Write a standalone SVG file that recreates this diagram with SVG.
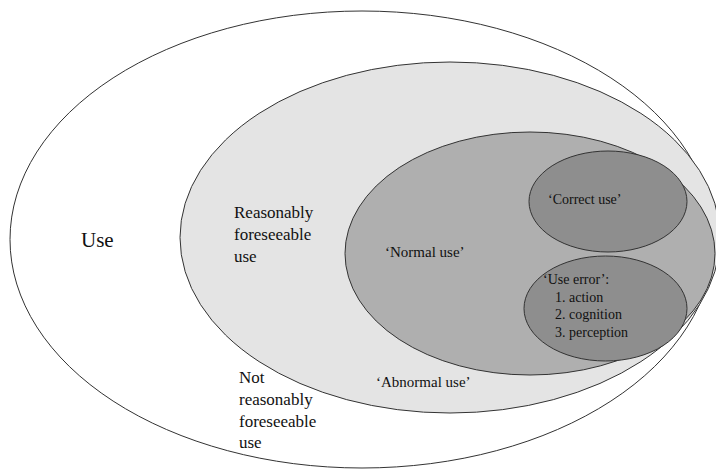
<svg xmlns="http://www.w3.org/2000/svg" width="716" height="469" viewBox="0 0 716 469">
<style>
.e{stroke:#333;stroke-width:1}
text{font-family:'Liberation Serif','DejaVu Serif',serif;fill:#111}
.l{font-size:17px}
.m{font-size:15px}
.s{font-size:14px}
</style>
<rect width="716" height="469" fill="#fff"/>
<g id="use">
<ellipse class="e" cx="362" cy="239.5" rx="352" ry="228.5" fill="#fff"/>
<text font-family="Liberation Serif, serif" x="81" y="247" font-size="21">Use</text>
</g>
<g id="foreseeable">
<ellipse class="e" cx="450" cy="237.5" rx="270" ry="175.5" fill="#e4e4e4"/>
<text class="l" x="234" y="218">Reasonably</text>
<text class="l" x="234" y="240">foreseeable</text>
<text class="l" x="234" y="262">use</text>
</g>
<g id="not-foreseeable">
<text class="l" x="239" y="383">Not</text>
<text class="l" x="239" y="405">reasonably</text>
<text class="l" x="239" y="427">foreseeable</text>
<text class="l" x="239" y="448">use</text>
</g>
<g id="abnormal">
<text class="m" x="376" y="387">‘Abnormal use’</text>
</g>
<g id="normal">
<ellipse class="e" cx="530" cy="253.5" rx="185" ry="121.5" fill="#afafaf"/>
<text class="m" x="385" y="257">‘Normal use’</text>
</g>
<g id="correct">
<ellipse class="e" cx="608" cy="201.5" rx="79" ry="50.5" fill="#8e8e8e"/>
<text class="s" x="548" y="204">‘Correct use’</text>
</g>
<g id="use-error">
<ellipse class="e" cx="605.5" cy="308.5" rx="81.5" ry="52.5" fill="#8e8e8e"/>
<text class="s" x="543" y="284">‘Use error’:</text>
<text class="s" x="555" y="302">1. action</text>
<text class="s" x="555" y="319">2. cognition</text>
<text class="s" x="555" y="337">3. perception</text>
</g>
<g id="connectors"></g>
</svg>
